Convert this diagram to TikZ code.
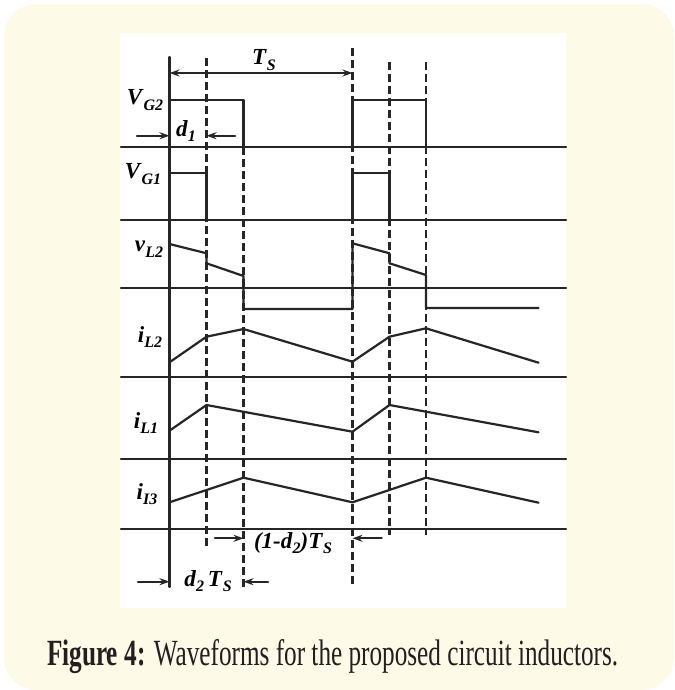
\documentclass[tikz,border=0pt]{standalone}
\usepackage{fontspec}
\setmainfont{Liberation Serif}
\usepackage{graphicx}
\usetikzlibrary{arrows.meta}
\definecolor{cream}{RGB}{254,250,232}
\definecolor{ink}{RGB}{35,31,32}
\newcommand{\sublab}[1]{\raisebox{-0.55ex}{\fontsize{16}{16}\selectfont\textbf{\textit{#1}}}}
\newcommand{\wlab}[2]{\textbf{\textit{#1}}\sublab{#2}}
\tikzset{
  wave/.style={line width=2.2pt,black!85},
  mark line/.style={line width=2.2pt,black!85,dash pattern=on 8pt off 4pt,line cap=butt},
  lab/.style={inner sep=0pt,font=\fontsize{23}{23}\selectfont}
}
\begin{document}
\begin{tikzpicture}[x=1pt,y=-1pt,>={Stealth[length=10pt,width=7pt]},line join=round,line cap=round]
	\useasboundingbox (0,0) rectangle (674,690);
	\fill[cream,rounded corners=32] (4,4) rectangle (674,690);
	\fill[white] (120,33) rectangle (566,608);
	\def\ta{169.5} \def\tb{206.5} \def\tc{243.5} % first period
	\def\td{352.5} \def\te{389.5} \def\tf{426} \def\tend{538.5} % second period
	% base lines of the six traces
	\foreach \yb in {146.7,220,287.7,377.3,459.3,529}
		\draw[wave] (121,\yb)--(566,\yb);
	\draw[wave] (\ta,57)--(\ta,587);
	% switching instants
	\draw[mark line] (\tb,58)--(\tb,548);
	\draw[mark line] (\tc,147)--(\tc,587);
	\draw[mark line] (\td,48)--(\td,587);
	\draw[mark line] (\te,62)--(\te,535);
	\draw[mark line] (\tf,62)--(\tf,535);
	% gate signals
	\draw[wave] (\ta,100)--(\tc,100)--(\tc,146.7);
	\draw[wave] (\td,146.7)--(\td,100)--(\tf,100)--(\tf,146.7);
	\draw[wave] (\ta,173.3)--(\tb,173.3)--(\tb,220);
	\draw[wave] (\td,220)--(\td,173.3)--(\te,173.3)--(\te,220);
	% inductor voltage and currents
	\draw[wave] (\ta,244)--(\tb,253.3)--(\tb,263.3)--(\tc,276)--(\tc,309)--(\td,309)
		--(\td,243.3)--(\te,253.3)--(\te,263.3)--(\tf,275)--(\tf,308)--(\tend,308);
	\draw[wave] (\ta,362.3)--(\tb,336.7)--(\tc,329)--(\td,361.7)--(\te,336.7)--(\tf,328.3)--(\tend,362.7);
	\draw[wave] (\ta,430.7)--(\tb,405)--(\td,431.7)--(\te,405)--(\tend,432.3);
	\draw[wave] (\ta,502.3)--(\tc,477.7)--(\td,502.3)--(\tf,477.7)--(\tend,502.7);
	% labels
	\node[lab] (vg2) at (145,100) {\wlab{V}{G2}};
	\node[lab] (vg1) at (143,174) {\wlab{V}{G1}};
	\node[lab] (vl2) at (149,249) {\wlab{v}{L2}};
	\node[lab] (il2) at (150,337) {\wlab{i}{L2}};
	\node[lab] (il1) at (146,423) {\wlab{i}{L1}};
	\node[lab] (il3) at (147,494) {\wlab{i}{I3}};
	% time intervals
	\coordinate (ts0) at (\ta,73); \coordinate (ts1) at (\td,73);
	\draw[wave,<->] (ts0)--(ts1);
	\node[lab] (ts) at (264,60) {\wlab{T}{S}};
	\node[lab] (d1) at (186,131) {\wlab{d}{1}};
	\draw[wave,->] (137,135.7)--(\ta,135.7);
	\draw[wave,->] (235,135.7)--(\tb,135.7);
	\node[lab] (offt) at (293,543) {\textbf{\textit{(1-d}}\sublab{2}\textbf{\textit{)T}}\sublab{S}};
	\draw[wave,->] (215,538.3)--(\tc,538.3);
	\draw[wave,->] (381.7,538.3)--(\td,538.3);
	\node[lab] (ont) at (208,581) {\wlab{d}{2}\,\wlab{T}{S}};
	\draw[wave,->] (138,581.7)--(\ta,581.7);
	\draw[wave,->] (268,581.7)--(\tc,581.7);
	% caption
	\node[anchor=base west,inner sep=0pt,text=ink] (cap) at (47,665.7)
		{\resizebox{571pt}{26pt}{\textbf{Figure 4:} Waveforms for the proposed circuit inductors.}};
\end{tikzpicture}
\end{document}
